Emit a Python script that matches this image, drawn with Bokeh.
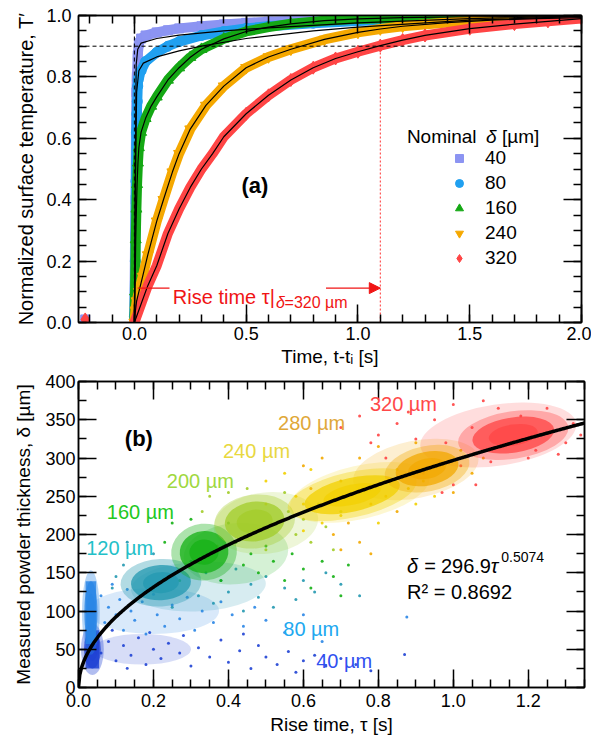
import numpy as np
from bokeh.plotting import figure
from bokeh.layouts import column
from bokeh.models import (Range1d, LinearAxis, SingleIntervalTicker, PrintfTickFormatter,
                          CustomJSTickFormatter, Label, Legend, LegendItem, Arrow, NormalHead, Span)
from bokeh.embed import file_html
from bokeh.resources import INLINE

FONT = "Liberation Sans"

# ======================= Panel (a) data =======================
t40 = [-0.22, 0.0, 0.003, 0.005, 0.007, 0.009, 0.011, 0.015, 0.02, 0.03, 0.05, 0.1, 0.15, 0.2,
       0.3, 0.4, 0.5, 0.6, 0.8, 1.0, 1.2, 1.5, 2.0]
T40 = [0.01, 0.02, 0.28, 0.40, 0.62, 0.75, 0.80, 0.87, 0.91, 0.925, 0.935, 0.945, 0.952, 0.958,
       0.965, 0.971, 0.976, 0.98, 0.986, 0.99, 0.993, 0.996, 0.998]
fit40_t = [0.0, 0.004, 0.008, 0.015, 0.03, 0.1, 0.2, 0.4, 0.6, 0.8, 1.0, 1.5, 2.0]
fit40_T = [0.0, 0.5, 0.84, 0.89, 0.91, 0.925, 0.936, 0.95, 0.96, 0.968, 0.976, 0.99, 0.998]

t80 = [0.0, 0.004, 0.007, 0.009, 0.011, 0.013, 0.015, 0.017, 0.02, 0.03, 0.05, 0.1, 0.15, 0.2,
       0.3, 0.4, 0.5, 0.6, 0.8, 1.0, 1.2, 1.5, 2.0]
T80 = [0.02, 0.2, 0.46, 0.62, 0.68, 0.72, 0.77, 0.79, 0.80, 0.82, 0.85, 0.88, 0.90, 0.915,
       0.935, 0.948, 0.958, 0.965, 0.975, 0.982, 0.987, 0.992, 0.997]
fit80_t = [0.0, 0.005, 0.01, 0.02, 0.04, 0.1, 0.2, 0.3, 0.5, 0.8, 1.0, 1.5, 2.0]
fit80_T = [0.0, 0.45, 0.75, 0.82, 0.845, 0.865, 0.885, 0.9, 0.925, 0.95, 0.962, 0.985, 0.997]

t160 = [0.0, 0.003, 0.006, 0.009, 0.012, 0.016, 0.02, 0.03, 0.05, 0.075, 0.1, 0.15, 0.2, 0.25,
        0.3, 0.4, 0.5, 0.6, 0.7, 0.85, 1.0, 1.2, 1.5, 2.0]
T160 = [0.0, 0.1, 0.27, 0.37, 0.45, 0.52, 0.57, 0.62, 0.665, 0.705, 0.735, 0.79, 0.83, 0.864,
        0.89, 0.924, 0.948, 0.962, 0.973, 0.983, 0.989, 0.993, 0.996, 0.998]

t240 = [0.0, 0.005, 0.01, 0.02, 0.037, 0.06, 0.1, 0.13, 0.17, 0.2, 0.25, 0.32, 0.4, 0.5, 0.6,
        0.7, 0.85, 1.0, 1.1, 1.2, 1.4, 1.6, 1.8, 2.0]
T240 = [0.0, 0.04, 0.07, 0.10, 0.15, 0.22, 0.33, 0.40, 0.49, 0.55, 0.63, 0.707, 0.77, 0.83, 0.865,
        0.89, 0.922, 0.945, 0.956, 0.965, 0.977, 0.985, 0.99, 0.993]

t320 = [-0.22, 0.0, 0.03, 0.06, 0.1, 0.15, 0.2, 0.25, 0.3, 0.35, 0.4, 0.5, 0.6, 0.7, 0.8, 0.9,
        1.0, 1.1, 1.2, 1.3, 1.5, 1.7, 1.85, 2.0]
T320 = [0.01, 0.0, 0.06, 0.12, 0.185, 0.29, 0.37, 0.44, 0.50, 0.55, 0.605, 0.68, 0.74, 0.79, 0.83,
        0.86, 0.882, 0.902, 0.92, 0.935, 0.957, 0.972, 0.981, 0.99]

threshold = 0.9
rise_time_320 = 1.1

# ======================= Panel (b) data =======================
nominal = ["40", "80", "120", "160", "200", "240", "280", "320"]
core_tau = [0.037, 0.033, 0.22, 0.335, 0.47, 0.73, 0.93, 1.16]
core_delta = [50, 98, 137, 177, 217, 252, 286, 330]
core_wtau = [0.045, 0.035, 0.16, 0.13, 0.16, 0.26, 0.17, 0.22]
core_hdelta = [50, 82, 46, 55, 52, 44, 44, 46]
core_angle = [0.0, 0.0, 0.05, 0.1, 0.12, 0.22, 0.2, 0.15]
# secondary (spread) clouds
spread_tau = [0.17, 0.2, 0.32, 0.42, 0.5, 0.75, 0.9, 1.12]
spread_delta = [50, 100, 132, 175, 215, 255, 285, 330]
spread_wtau = [0.26, 0.35, 0.36, 0.28, 0.28, 0.38, 0.34, 0.42]
spread_hdelta = [40, 60, 65, 80, 80, 70, 75, 80]

sparse_40 = [(0.06, 45), (0.08, 60), (0.1, 35), (0.12, 55), (0.14, 42), (0.16, 65), (0.18, 30),
             (0.2, 50), (0.22, 38), (0.24, 58), (0.27, 45), (0.3, 28), (0.32, 52), (0.35, 40),
             (0.38, 62), (0.4, 33), (0.43, 48), (0.46, 25), (0.48, 55), (0.5, 40), (0.53, 30),
             (0.56, 47), (0.58, 20), (0.6, 35), (0.63, 42), (0.66, 28), (0.7, 38), (0.74, 30),
             (0.78, 22), (0.87, 43), (0.09, 75), (0.13, 25), (0.19, 72), (0.28, 68), (0.44, 70)]
sparse_80 = [(0.06, 120), (0.07, 85), (0.08, 105), (0.09, 135), (0.1, 95), (0.11, 115), (0.12, 75),
             (0.13, 128), (0.14, 100), (0.15, 88), (0.17, 112), (0.18, 70), (0.2, 122), (0.21, 95),
             (0.23, 80), (0.25, 108), (0.27, 90), (0.29, 118), (0.31, 75), (0.33, 100), (0.36, 85),
             (0.38, 112), (0.41, 95), (0.44, 80), (0.47, 105), (0.5, 88), (0.55, 72), (0.6, 95),
             (0.876, 92), (0.65, 60)]
sparse_120 = [(0.1, 145), (0.12, 160), (0.3, 165), (0.32, 120), (0.34, 150), (0.36, 110), (0.38, 140),
              (0.4, 125), (0.42, 155), (0.44, 100), (0.46, 135), (0.48, 118), (0.5, 145), (0.52, 105),
              (0.55, 130), (0.58, 115), (0.6, 140), (0.63, 125), (0.66, 150), (0.7, 135), (0.75, 120),
              (0.13, 190), (0.2, 175), (0.09, 130), (0.25, 105)]
sparse_160 = [(0.25, 215), (0.27, 140), (0.3, 220), (0.42, 190), (0.44, 160), (0.46, 175), (0.48, 150),
              (0.5, 185), (0.52, 165), (0.55, 140), (0.57, 175), (0.6, 155), (0.62, 130), (0.65, 165),
              (0.68, 145), (0.7, 120), (0.38, 140), (0.23, 190), (0.72, 160), (0.4, 215)]
sparse_200 = [(0.35, 250), (0.37, 185), (0.56, 230), (0.58, 200), (0.6, 220), (0.62, 190), (0.64, 240),
              (0.66, 210), (0.55, 255), (0.45, 260), (0.4, 255), (0.68, 180), (0.7, 230), (0.5, 180),
              (0.33, 230)]
sparse_240 = [(0.5, 270), (0.55, 280), (0.58, 250), (0.6, 240), (0.62, 285), (0.88, 260), (0.9, 240),
              (0.85, 285), (0.92, 270), (0.55, 220), (0.6, 205), (0.65, 215), (0.7, 225), (0.95, 250),
              (0.8, 215), (0.5, 240)]
sparse_280 = [(0.6, 290), (0.65, 300), (0.7, 270), (0.75, 300), (0.78, 240), (0.8, 315), (0.82, 250),
              (1.02, 310), (1.05, 280), (1.08, 300), (1.0, 255), (0.72, 215), (0.68, 200), (0.75, 190),
              (0.9, 320), (0.85, 230), (0.62, 260), (0.78, 175), (0.7, 180)]
sparse_320 = [(0.7, 340), (0.75, 355), (0.8, 330), (0.82, 300), (0.85, 345), (0.88, 360), (0.9, 325),
              (0.92, 280), (0.95, 350), (0.98, 320), (1.0, 370), (1.02, 290), (1.05, 340), (1.08, 375),
              (1.0, 265), (1.06, 265), (0.97, 255), (1.3, 320), (1.32, 345), (1.28, 305), (1.25, 365),
              (1.2, 300), (1.34, 330), (1.12, 365), (1.18, 355), (1.22, 310), (0.78, 320), (1.1, 295)]
sparse_all = [sparse_40, sparse_80, sparse_120, sparse_160, sparse_200, sparse_240, sparse_280, sparse_320]

fit_coef = 296.9
fit_exp = 0.5074
r_squared = 0.8692


# ======================= helpers =======================
def style_axis(ax, show_labels=True, standoff=6, label_standoff=6, title_size="19px"):
    ax.axis_line_width = 1.5
    ax.axis_line_color = "black"
    ax.major_tick_in = 18
    ax.major_tick_out = 0
    ax.minor_tick_in = 8
    ax.minor_tick_out = 0
    ax.major_tick_line_width = 1.5
    ax.minor_tick_line_width = 1.5
    ax.major_tick_line_color = "black"
    ax.minor_tick_line_color = "black"
    ax.major_label_text_font = FONT
    ax.major_label_text_color = "black"
    ax.axis_label_text_font = FONT
    ax.axis_label_text_font_style = "normal"
    ax.axis_label_text_font_size = title_size
    ax.axis_label_text_color = "black"
    ax.axis_label_standoff = label_standoff
    ax.major_label_text_font_size = "18px"
    if show_labels:
        ax.major_label_standoff = standoff
    else:
        ax.formatter = CustomJSTickFormatter(code="return ''")
        ax.major_label_standoff = 0


def setup_frame(p, xt, yt, xfmt, yfmt, xlabel, ylabel, xs, ys, ytitle="19px"):
    p.xaxis.ticker = xt
    p.yaxis.ticker = yt
    p.xaxis.formatter = PrintfTickFormatter(format=xfmt)
    p.yaxis.formatter = PrintfTickFormatter(format=yfmt)
    p.xaxis.axis_label = xlabel
    p.yaxis.axis_label = ylabel
    style_axis(p.xaxis[0], True, xs[0], xs[1])
    style_axis(p.yaxis[0], True, ys[0], ys[1], ytitle)
    top = LinearAxis(ticker=xt)
    style_axis(top, False)
    p.add_layout(top, "above")
    right = LinearAxis(ticker=yt)
    style_axis(right, False)
    p.add_layout(right, "right")
    p.xgrid.visible = False
    p.ygrid.visible = False
    p.outline_line_color = "black"
    p.outline_line_width = 1.5
    p.background_fill_color = "white"
    p.border_fill_color = "white"


def lab(p, x, y, text, size, color="black", style="normal", align="left", baseline="alphabetic"):
    p.add_layout(Label(x=x, y=y, text=text, text_font=FONT, text_font_size=size,
                       text_color=color, text_font_style=style, text_align=align,
                       text_baseline=baseline))


# ======================= Panel (a) =======================
p1 = figure(frame_width=503, frame_height=307, x_range=Range1d(-0.25, 2.0), y_range=Range1d(0, 1.0),
            min_border_left=76, min_border_right=12, min_border_top=15, min_border_bottom=48,
            output_backend="svg", toolbar_location=None)
setup_frame(p1, SingleIntervalTicker(interval=0.5, num_minor_ticks=5),
            SingleIntervalTicker(interval=0.2, num_minor_ticks=4), "%.1f", "%.1f",
            "Time, t-tᵢ [s]", "Normalized surface temperature, T′", (4, 3), (7, 6), "20px")

p1.add_layout(Span(location=threshold, dimension="width", line_color="black",
                   line_dash="4 3", line_width=1))
p1.add_layout(Span(location=0, dimension="height", line_color="black",
                   line_dash="4 3", line_width=1))
p1.segment(x0=[rise_time_320], y0=[0], x1=[rise_time_320], y1=[threshold],
           line_color="#ff3030", line_dash="2 2", line_width=1)

series_a = [
    ("40", t40, T40, fit40_t, fit40_T, "#8c94f2", "square", 9),
    ("80", t80, T80, fit80_t, fit80_T, "#20a0f0", "circle", 10),
    ("160", t160, T160, t160, T160, "#14a814", "triangle", 11),
    ("240", t240, T240, t240, T240, "#f5a800", "inverted_triangle", 11),
    ("320", t320, T320, t320, T320, "#ff4545", "diamond", 13),
]
items = []
fits = []
for name, tt, TT, ft, fT, col, mk, sz in series_a:
    tt = np.asarray(tt, dtype=float)
    TT = np.asarray(TT, dtype=float)
    m = tt >= 0
    p1.line(tt[m], TT[m], line_color=col, line_width=10, line_join="round", line_cap="round")
    r = p1.scatter(tt, TT, marker=mk, size=sz, fill_color=col, line_color=col)
    items.append(LegendItem(label=name, renderers=[r]))
    ft = np.asarray(ft, dtype=float)
    fT = np.asarray(fT, dtype=float)
    fm = ft >= 0
    fits.append((ft[fm], fT[fm]))
for ft, fT in fits:
    p1.line(ft, fT, line_color="black", line_width=1.2)

leg = Legend(items=items, location=(371, 53), orientation="vertical", glyph_width=20, glyph_height=20,
             label_height=20, label_standoff=16, spacing=3, padding=0, margin=0,
             border_line_color=None, background_fill_alpha=0, label_text_font=FONT,
             label_text_font_size="19px", label_text_color="black")
p1.add_layout(leg)

lab(p1, 1.219, 0.606, "Nominal", "19px")
lab(p1, 1.573, 0.606, "δ", "19px", style="italic")
lab(p1, 1.644, 0.606, "[µm]", "19px")
lab(p1, 0.539, 0.447, "(a)", "22px", style="bold", align="center", baseline="middle")

RED = "#f01414"
p1.segment(x0=[0.015], y0=[0.112], x1=[0.157], y1=[0.112], line_color=RED, line_width=1.2)
p1.add_layout(Arrow(end=NormalHead(size=11, fill_color=RED, line_color=RED),
                    x_start=0.857, y_start=0.112, x_end=rise_time_320, y_end=0.112,
                    line_color=RED, line_width=1.2))
lab(p1, 0.172, 0.083, "Rise time τ|", "20px", color=RED)
lab(p1, 0.634, 0.064, "δ", "16px", color=RED, style="italic")
lab(p1, 0.672, 0.064, "=320 µm", "16px", color=RED)

# ======================= Panel (b) =======================
p2 = figure(frame_width=506, frame_height=306, x_range=Range1d(0, 1.35), y_range=Range1d(0, 400),
            min_border_left=78, min_border_right=8, min_border_top=11, min_border_bottom=40,
            output_backend="svg", toolbar_location=None)
setup_frame(p2, SingleIntervalTicker(interval=0.2, num_minor_ticks=4),
            SingleIntervalTicker(interval=50, num_minor_ticks=2), "%.1f", "%d",
            "Rise time, τ [s]", "Measured powder thickness, δ [µm]", (6, 4), (3, 8))

dot_colors = ["#1f42d4", "#2a86e6", "#2298b0", "#14b014", "#a2cc28", "#f2d000", "#f2a800", "#ff4444"]
for i, col in enumerate(dot_colors):
    p2.ellipse(x=[spread_tau[i]], y=[spread_delta[i]], width=[spread_wtau[i]], height=[spread_hdelta[i]],
               angle=core_angle[i], fill_color=col, fill_alpha=0.18, line_color=None)
    pts = sparse_all[i]
    p2.scatter([q[0] for q in pts], [q[1] for q in pts], size=3, fill_color=col, line_color=None,
               fill_alpha=0.9)
for i, col in enumerate(dot_colors):
    p2.ellipse(x=[core_tau[i]], y=[core_delta[i]], width=[core_wtau[i] * 1.35], height=[core_hdelta[i] * 1.35],
               angle=core_angle[i], fill_color=col, fill_alpha=0.35, line_color=None)
    if i < 2:
        # vertical strips of the thinnest layers
        p2.rect(x=[core_tau[i]], y=[core_delta[i]], width=[core_wtau[i] * 0.8], height=[core_hdelta[i]],
                fill_color=col, fill_alpha=0.85, line_color=None)
    p2.ellipse(x=[core_tau[i]], y=[core_delta[i]], width=[core_wtau[i]], height=[core_hdelta[i]],
               angle=core_angle[i], fill_color=col, fill_alpha=0.75, line_color=None)
    p2.ellipse(x=[core_tau[i]], y=[core_delta[i]], width=[core_wtau[i] * 0.6], height=[core_hdelta[i] * 0.6],
               angle=core_angle[i], fill_color=col, fill_alpha=0.7, line_color=None)

tau_fit = np.linspace(0, 1.35, 400)
p2.line(tau_fit, fit_coef * tau_fit ** fit_exp, line_color="black", line_width=3.5)

label_colors = ["#3050f0", "#20a8f0", "#22c0c8", "#22c822", "#a0d840", "#e8d840", "#e0a838", "#ff4848"]
label_pos = [(0.709, 35), (0.621, 76), (0.110, 182), (0.165, 230), (0.325, 270), (0.475, 309),
             (0.622, 346), (0.867, 371)]
for name, col, (lx, ly) in zip(nominal, label_colors, label_pos):
    lab(p2, lx, ly, name + " µm", "20px", color=col, align="center", baseline="middle")

lab(p2, 0.161, 326, "(b)", "22px", style="bold", align="center", baseline="middle")
lab(p2, 0.8765, 159.3, "δ", "20px", style="italic")
lab(p2, 0.9227, 159.3, "=", "20px")
lab(p2, 0.967, 159.3, "%.1f" % fit_coef, "20px")
lab(p2, 1.100, 159.3, "τ", "20px", style="italic")
lab(p2, 1.128, 170.1, "%.4f" % fit_exp, "14px")
lab(p2, 0.8765, 124.4, "R² = %.4f" % r_squared, "20px")

layout = column(p1, p2)
open("out.html", "w").write(file_html(layout, INLINE))
